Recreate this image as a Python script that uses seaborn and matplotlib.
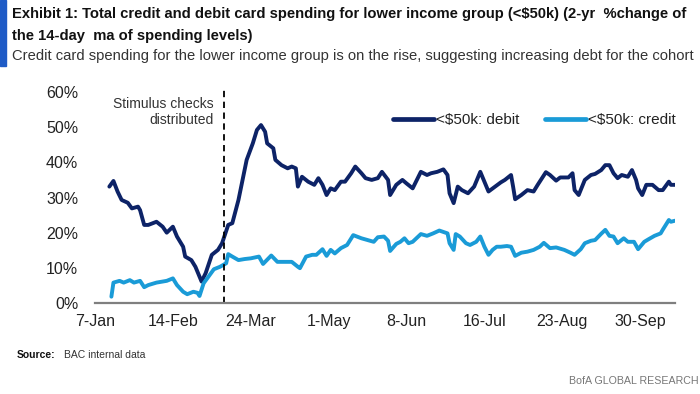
import pandas as pd
import seaborn as sns
import matplotlib.pyplot as plt
from matplotlib.patches import Rectangle
from matplotlib.ticker import FuncFormatter

debit_dates = ["01-14", "01-16", "01-18", "01-20", "01-23", "01-25", "01-28", "01-29", "01-31",
               "02-02", "02-06", "02-09", "02-11", "02-14", "02-16", "02-19", "02-20", "02-23",
               "02-25", "02-28", "03-02", "03-05", "03-08", "03-10", "03-13", "03-15", "03-18",
               "03-20", "03-22", "03-25", "03-27", "03-29", "03-31", "04-01", "04-04", "04-05",
               "04-08", "04-11", "04-13", "04-15", "04-16", "04-18", "04-21", "04-24", "04-26",
               "04-28", "04-30", "05-02", "05-04", "05-07", "05-09", "05-12", "05-14", "05-17",
               "05-19", "05-22", "05-25", "05-27", "05-30", "05-31", "06-03", "06-06", "06-08",
               "06-11", "06-15", "06-18", "06-20", "06-23", "06-26", "06-28", "06-29", "07-01",
               "07-03", "07-05", "07-08", "07-11", "07-14", "07-16", "07-18", "07-21", "07-24",
               "07-26", "07-29", "07-30", "07-31", "08-03", "08-06", "08-09", "08-11", "08-15",
               "08-17", "08-20", "08-22", "08-26", "08-28", "08-29", "08-31", "09-03", "09-06",
               "09-08", "09-11", "09-13", "09-15", "09-17", "09-19", "09-21", "09-24", "09-26",
               "09-28", "09-29", "10-01", "10-03", "10-06", "10-09", "10-11", "10-14", "10-15",
               "10-17"]
debit = [33.1, 34.7, 31.7, 29.3, 28.5, 26.9, 27.4, 26.4, 22.2,
         22.2, 23.1, 21.7, 20.0, 21.7, 18.9, 16.0, 13.2, 12.2,
         10.3, 6.1, 8.5, 13.7, 15.1, 17.0, 22.2, 22.7, 29.3,
         35.0, 40.7, 45.4, 49.2, 50.6, 48.7, 45.4, 44.0, 40.7,
         39.2, 38.3, 38.8, 38.3, 33.1, 35.9, 34.5, 33.6, 35.5,
         33.6, 30.7, 32.6, 32.1, 34.5, 34.5, 36.9, 38.8, 36.9,
         35.5, 35.0, 35.5, 37.3, 35.0, 30.7, 33.6, 35.0, 34.0,
         32.6, 37.3, 36.4, 36.9, 37.3, 38.0, 36.4, 31.2, 28.4,
         33.1, 32.1, 31.2, 33.1, 37.3, 34.5, 31.7, 33.0, 34.3,
         35.0, 36.4, 33.1, 29.5, 30.7, 32.1, 31.7, 33.6, 37.2,
         36.4, 34.8, 35.7, 35.7, 36.9, 32.1, 30.7, 35.0, 36.4,
         36.7, 37.8, 39.2, 39.2, 36.9, 35.5, 36.4, 35.9, 37.8,
         35.0, 32.6, 30.7, 33.6, 33.6, 32.1, 32.1, 34.5, 33.6,
         33.6]

credit_dates = ["01-15", "01-16", "01-19", "01-21", "01-24", "01-26", "01-29", "01-31", "02-02",
                "02-06", "02-09", "02-11", "02-14", "02-16", "02-19", "02-21", "02-24", "02-26",
                "02-27", "03-01", "03-04", "03-06", "03-09", "03-12", "03-13", "03-15", "03-18",
                "03-21", "03-24", "03-28", "03-30", "04-03", "04-06", "04-09", "04-13", "04-16",
                "04-17", "04-20", "04-23", "04-25", "04-28", "04-30", "05-02", "05-04", "05-07",
                "05-10", "05-13", "05-17", "05-20", "05-23", "05-25", "05-28", "05-30", "05-31",
                "06-03", "06-05", "06-07", "06-09", "06-11", "06-15", "06-18", "06-21", "06-24",
                "06-28", "06-29", "07-01", "07-02", "07-04", "07-07", "07-09", "07-12", "07-14",
                "07-16", "07-18", "07-20", "07-22", "07-24", "07-27", "07-29", "07-31", "08-03",
                "08-06", "08-09", "08-12", "08-14", "08-17", "08-20", "08-24", "08-27", "08-29",
                "09-01", "09-03", "09-06", "09-08", "09-11", "09-13", "09-15", "09-17", "09-19",
                "09-22", "09-24", "09-27", "09-29", "10-02", "10-04", "10-07", "10-10", "10-11",
                "10-14", "10-15", "10-17"]
credit = [1.8, 5.8, 6.3, 5.8, 6.5, 5.8, 6.3, 4.5, 5.1,
          5.8, 6.1, 6.3, 7.0, 5.1, 3.2, 2.5, 3.2, 2.9,
          2.0, 5.6, 8.0, 9.6, 10.3, 11.3, 13.9, 13.2, 12.2,
          12.5, 12.7, 13.2, 11.1, 13.5, 11.7, 11.7, 11.7, 10.3,
          9.9, 13.2, 13.7, 13.7, 15.3, 13.4, 15.1, 14.1, 15.6,
          16.5, 19.3, 18.4, 17.9, 17.4, 18.7, 18.9, 17.7, 14.8,
          16.8, 17.4, 18.4, 17.0, 17.4, 19.6, 19.1, 19.8, 20.6,
          19.8, 17.0, 15.1, 19.6, 18.9, 17.0, 16.5, 17.4, 18.9,
          16.0, 13.7, 15.1, 16.0, 16.0, 16.2, 16.0, 13.4, 14.3,
          14.6, 15.1, 16.0, 17.1, 15.6, 15.8, 15.1, 14.3, 13.7,
          15.3, 17.0, 17.7, 17.9, 19.7, 20.8, 19.1, 18.9, 17.0,
          18.4, 17.4, 17.4, 15.3, 17.4, 18.1, 19.1, 19.8, 20.8,
          23.6, 23.1, 23.4]

series_names = ["<$50k: debit", "<$50k: credit"]
tick_dates = ["01-07", "02-14", "03-24", "05-01", "06-08", "07-16", "08-23", "09-30"]
tick_labels = ["7-Jan", "14-Feb", "24-Mar", "1-May", "8-Jun", "16-Jul", "23-Aug", "30-Sep"]
stimulus_date = "03-11"

df = pd.concat([
    pd.DataFrame({"date": pd.to_datetime(["2021-" + d for d in debit_dates]),
                  "value": debit, "series": series_names[0]}),
    pd.DataFrame({"date": pd.to_datetime(["2021-" + d for d in credit_dates]),
                  "value": credit, "series": series_names[1]}),
])

sns.set_style("white")
plt.rcParams["font.family"] = ["Liberation Sans", "DejaVu Sans"]

fig = plt.figure(figsize=(7, 3.94), dpi=100)
ax = fig.add_axes([95 / 700, 1 - 303 / 394, 580 / 700, 211 / 394])

palette = {series_names[0]: "#0d2367", series_names[1]: "#1a9bd7"}
sns.lineplot(data=df, x="date", y="value", hue="series", hue_order=series_names,
             palette=palette, linewidth=2.8, ax=ax)

ax.set_ylim(0, 60)
ax.set_yticks(range(0, 61, 10))
ax.yaxis.set_major_formatter(FuncFormatter(lambda v, p: f"{v:.0f}%"))
ax.set_xlim(pd.Timestamp("2021-01-07"), pd.Timestamp("2021-10-17"))
ax.set_xticks(pd.to_datetime(["2021-" + d for d in tick_dates]))
ax.set_xticklabels(tick_labels)
ax.set_xlabel("")
ax.set_ylabel("")
ax.tick_params(axis="both", length=0, labelsize=11.5, colors="#222222")
ax.tick_params(axis="y", pad=12)
ax.tick_params(axis="x", pad=8)
for s in ["top", "right", "left"]:
    ax.spines[s].set_visible(False)
ax.spines["bottom"].set_color("#7f7f7f")
ax.spines["bottom"].set_linewidth(1.6)

# stimulus marker
ax.axvline(pd.Timestamp("2021-" + stimulus_date), ymin=0, ymax=1.02, color="black",
           linestyle=(0, (3.5, 2.5)), linewidth=1.3, clip_on=False)
ax.text(pd.Timestamp("2021-03-06"), 58.7, "Stimulus checks\ndistributed", ha="right", va="top",
        fontsize=10, color="#333333", linespacing=1.25)

leg = ax.legend(loc="upper right", bbox_to_anchor=(1.025, 0.965), ncol=2, frameon=False,
                fontsize=11, handlelength=2.7, handletextpad=0.1, columnspacing=1.7)
for line in leg.get_lines():
    line.set_linewidth(3.4)
for t in leg.get_texts():
    t.set_color("#222222")

# header
fig.patches.append(Rectangle((0, 1 - 66 / 394), 6 / 700, 66 / 394, transform=fig.transFigure,
                             color="#1f5bc6", zorder=3))
fig.text(12 / 700, 1 - 14 / 394,
         "Exhibit 1: Total credit and debit card spending for lower income group (<\\$50k) (2-yr  %change of",
         fontsize=10.6, fontweight="bold", va="center", color="#111111")
fig.text(12 / 700, 1 - 36 / 394, "the 14-day  ma of spending levels)",
         fontsize=10.6, fontweight="bold", va="center", color="#111111")
fig.text(12 / 700, 1 - 56 / 394,
         "Credit card spending for the lower income group is on the rise, suggesting increasing debt for the cohort",
         fontsize=10.6, va="center", color="#333333")

# footer
fig.text(17 / 700, 1 - 355 / 394, "Source:", fontsize=7.5, fontweight="bold", va="center", color="#111111")
fig.text(64 / 700, 1 - 355 / 394, "BAC internal data", fontsize=7.5, va="center", color="#333333")
fig.text(699 / 700, 1 - 381 / 394, "BofA GLOBAL RESEARCH", fontsize=7.7, ha="right", va="center",
         color="#777777")

fig.savefig("out.png", dpi=100)
